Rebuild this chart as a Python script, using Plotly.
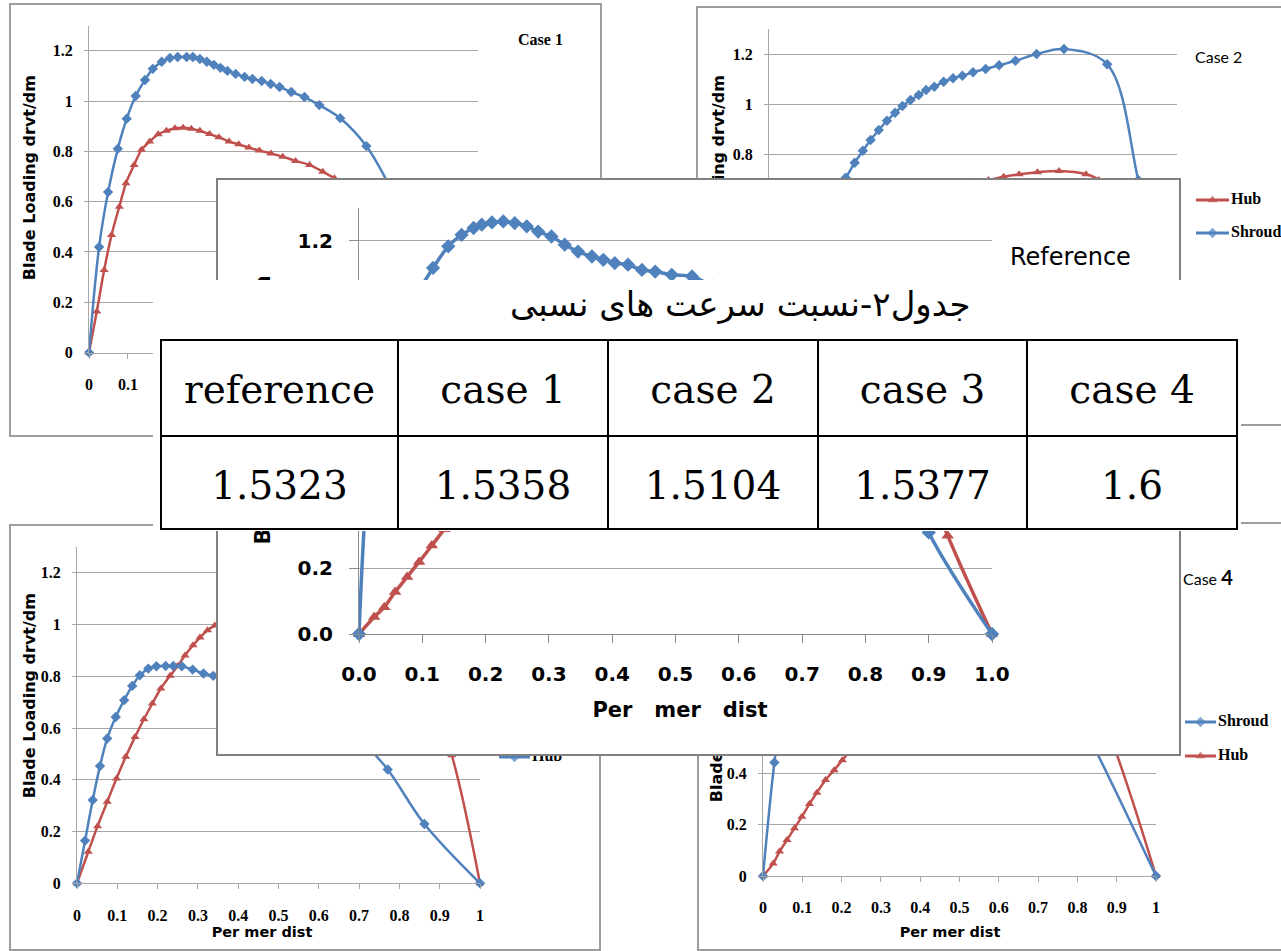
import plotly.graph_objects as go

W, H = 1281, 951
BLUE = "#4F81BD"
RED = "#C0504D"
GRID = "#A6A6A6"

# ---------------- data ----------------
x_tick_values = [0, 0.1, 0.2, 0.3, 0.4, 0.5, 0.6, 0.7, 0.8, 0.9, 1.0]
case_x_tick_labels = ["0", "0.1", "0.2", "0.3", "0.4", "0.5", "0.6", "0.7", "0.8", "0.9", "1"]
ref_x_tick_labels = ["0.0", "0.1", "0.2", "0.3", "0.4", "0.5", "0.6", "0.7", "0.8", "0.9", "1.0"]
y_tick_values = [0, 0.2, 0.4, 0.6, 0.8, 1.0, 1.2]
case_y_tick_labels = ["0", "0.2", "0.4", "0.6", "0.8", "1", "1.2"]
ref_y_tick_labels = ["0.0", "0.2", "0.4", "0.6", "0.8", "1.0", "1.2"]

# Case 1
case1_shroud_x = [0, 0.026, 0.049, 0.074, 0.097, 0.12, 0.144, 0.164, 0.187, 0.208, 0.228, 0.251, 0.267,
                  0.285, 0.303, 0.321, 0.338, 0.356, 0.377, 0.4, 0.42, 0.444, 0.467, 0.49, 0.52, 0.554,
                  0.592, 0.646, 0.713, 0.78, 0.85, 0.92, 1.0]
case1_shroud_y = [0, 0.42, 0.638, 0.81, 0.93, 1.02, 1.084, 1.128, 1.156, 1.171, 1.175, 1.175, 1.175,
                  1.167, 1.156, 1.144, 1.132, 1.12, 1.108, 1.096, 1.088, 1.08, 1.068, 1.056, 1.036, 1.016,
                  0.984, 0.932, 0.821, 0.64, 0.42, 0.2, 0]
case1_hub_x = [0, 0.02, 0.039, 0.058, 0.078, 0.095, 0.116, 0.135, 0.156, 0.178, 0.199, 0.221, 0.242,
               0.263, 0.285, 0.31, 0.334, 0.36, 0.385, 0.411, 0.438, 0.468, 0.498, 0.531, 0.567, 0.601,
               0.631, 0.7, 0.78, 0.86, 0.93, 1.0]
case1_hub_y = [0, 0.163, 0.328, 0.468, 0.58, 0.673, 0.746, 0.806, 0.839, 0.868, 0.882, 0.892, 0.894,
               0.89, 0.882, 0.869, 0.856, 0.839, 0.828, 0.815, 0.803, 0.792, 0.779, 0.762, 0.746, 0.719,
               0.693, 0.62, 0.5, 0.33, 0.17, 0]

# Case 2
case2_shroud_x = [0, 0.02, 0.05, 0.09, 0.13, 0.16, 0.188, 0.21, 0.23, 0.249, 0.269, 0.289, 0.309, 0.327,
                  0.347, 0.367, 0.385, 0.405, 0.428, 0.451, 0.474, 0.5, 0.531, 0.564, 0.604, 0.656, 0.723,
                  0.829, 0.905, 0.95, 1.0]
case2_shroud_y = [0, 0.25, 0.42, 0.52, 0.6, 0.65, 0.705, 0.765, 0.813, 0.856, 0.896, 0.933, 0.965, 0.992,
                  1.016, 1.036, 1.056, 1.069, 1.089, 1.103, 1.113, 1.127, 1.14, 1.155, 1.173, 1.2, 1.22,
                  1.159, 0.696, 0.35, 0]
case2_hub_x = [0, 0.03, 0.07, 0.12, 0.18, 0.25, 0.32, 0.39, 0.45, 0.5, 0.538, 0.575, 0.613, 0.658, 0.711,
               0.777, 0.808, 0.86, 0.93, 1.0]
case2_hub_y = [0, 0.12, 0.25, 0.37, 0.47, 0.55, 0.61, 0.65, 0.675, 0.69, 0.696, 0.709, 0.719, 0.727, 0.732,
               0.719, 0.696, 0.55, 0.28, 0]

# Case 3 (legend of this chart labels the blue curve "Hub")
case3_blue_x = [0, 0.02, 0.039, 0.057, 0.075, 0.096, 0.117, 0.137, 0.156, 0.177, 0.197, 0.22, 0.239, 0.26,
                0.287, 0.314, 0.338, 0.4, 0.48, 0.56, 0.64, 0.71, 0.771, 0.862, 1.0]
case3_blue_y = [0, 0.165, 0.322, 0.453, 0.56, 0.643, 0.708, 0.763, 0.804, 0.83, 0.839, 0.84, 0.84, 0.839,
                0.826, 0.811, 0.802, 0.79, 0.76, 0.71, 0.64, 0.545, 0.44, 0.229, 0]
case3_red_x = [0, 0.028, 0.051, 0.075, 0.098, 0.121, 0.144, 0.166, 0.187, 0.208, 0.231, 0.249, 0.268,
               0.288, 0.305, 0.324, 0.342, 0.4, 0.47, 0.55, 0.63, 0.71, 0.79, 0.86, 0.93, 1.0]
case3_red_y = [0, 0.122, 0.221, 0.315, 0.405, 0.489, 0.566, 0.634, 0.695, 0.753, 0.802, 0.839, 0.881,
               0.92, 0.95, 0.978, 0.997, 1.06, 1.11, 1.13, 1.12, 1.07, 0.97, 0.8, 0.495, 0]

# Case 4
case4_shroud_x = [0, 0.029, 0.06, 0.1, 0.15, 0.2, 0.3, 0.4, 0.5, 0.6, 0.7, 0.8, 1.0]
case4_shroud_y = [0, 0.442, 0.78, 0.98, 1.08, 1.12, 1.14, 1.13, 1.1, 1.03, 0.9, 0.63, 0]
case4_hub_x = [0, 0.026, 0.042, 0.061, 0.08, 0.099, 0.118, 0.137, 0.159, 0.181, 0.202, 0.23, 0.3, 0.4,
               0.5, 0.6, 0.7, 0.8, 0.86, 1.0]
case4_hub_y = [0, 0.049, 0.095, 0.14, 0.186, 0.231, 0.28, 0.324, 0.374, 0.412, 0.451, 0.5, 0.6, 0.72,
               0.81, 0.86, 0.86, 0.78, 0.63, 0]

# Reference
ref_shroud_x = [0, 0.025, 0.05, 0.075, 0.095, 0.117, 0.141, 0.162, 0.181, 0.194, 0.21, 0.228, 0.246, 0.265,
                0.283, 0.304, 0.325, 0.346, 0.368, 0.386, 0.404, 0.425, 0.447, 0.468, 0.494, 0.526, 0.56,
                0.6, 0.65, 0.7, 0.75, 0.8, 0.85, 0.9, 1.0]
ref_shroud_y = [0, 0.7, 0.88, 0.99, 1.05, 1.117, 1.183, 1.218, 1.239, 1.249, 1.256, 1.259, 1.254, 1.244,
                1.228, 1.213, 1.188, 1.167, 1.152, 1.142, 1.132, 1.127, 1.111, 1.106, 1.096, 1.091, 1.06,
                1.03, 0.99, 0.93, 0.85, 0.72, 0.55, 0.31, 0]
ref_hub_x = [0, 0.024, 0.04, 0.057, 0.076, 0.095, 0.115, 0.135, 0.16, 0.2, 0.25, 0.3, 0.4, 0.5, 0.6, 0.7,
             0.8, 0.87, 0.93, 1.0]
ref_hub_y = [0, 0.052, 0.082, 0.128, 0.174, 0.22, 0.27, 0.32, 0.38, 0.47, 0.57, 0.65, 0.77, 0.86, 0.92,
             0.93, 0.86, 0.6, 0.3, 0]

# Table
table_title = "جدول۲-نسبت سرعت های نسبی"
table_header = ["reference", "case 1", "case 2", "case 3", "case 4"]
table_values = ["1.5323", "1.5358", "1.5104", "1.5377", "1.6"]

y_title_text = "Blade Loading drvt/dm"
x_title_case = "Per\u00a0mer\u00a0dist"
x_title_ref = "Per\u00a0\u00a0\u00a0mer\u00a0\u00a0\u00a0dist"

# ---------------- figure construction ----------------
traces = []
layout = dict(template="none", width=W, height=H, autosize=False,
              margin=dict(l=0, r=0, t=0, b=0, pad=0), paper_bgcolor="white",
              plot_bgcolor="white", showlegend=False, annotations=[])
counter = {"n": 0}


def axis_names():
    counter["n"] += 1
    n = counter["n"]
    s = "" if n == 1 else str(n)
    return "xaxis" + s, "yaxis" + s, "x" + s, "y" + s


def dom_x(a, b):
    return [max(0.0, a / W), min(1.0, b / W)]


def dom_y(top, bottom):
    return [max(0.0, 1 - bottom / H), min(1.0, 1 - top / H)]


def add_cover(box, line_color, line_width, right_border=True, ytitle=None):
    """A white panel (card) that hides whatever lies beneath it."""
    x0, x1, y0, y1 = box
    xa, ya, xr, yr = axis_names()
    show = line_width > 0
    layout[xa] = dict(domain=dom_x(x0, x1), range=[x0, x1], anchor=yr, showgrid=False, zeroline=False,
                      showticklabels=False, ticks="", showline=show, mirror=True, linecolor=line_color,
                      linewidth=max(line_width, 1), fixedrange=True, automargin=False)
    yd = dict(domain=dom_y(y0, y1), range=[y1, y0], anchor=xr, showgrid=False, zeroline=False, ticks="",
              showline=show, mirror=right_border, linecolor=line_color, linewidth=max(line_width, 1),
              fixedrange=True, automargin=False)
    if ytitle is None:
        yd["showticklabels"] = False
    else:
        text, yc, font, standoff = ytitle
        yd.update(tickmode="array", tickvals=[yc], ticktext=[text], tickangle=-90,
                  ticklabelposition="inside", tickfont=font, ticklabelstandoff=standoff)
    layout[ya] = yd
    traces.append(go.Scatter(x=[x0], y=[y1], mode="markers", marker=dict(size=1, opacity=0),
                             hoverinfo="skip", xaxis=xr, yaxis=yr))
    return xr, yr


def add_text(xr, yr, x, y, text, font, position="middle right"):
    traces.append(go.Scatter(x=[x], y=[y], mode="text", text=[text], textposition=position, textfont=font,
                             hoverinfo="skip", cliponaxis=False, xaxis=xr, yaxis=yr))


def add_legend_item(xr, yr, x0, x1, y, color, symbol, msize, label, font, lw=3):
    traces.append(go.Scatter(x=[x0, (x0 + x1) / 2, x1], y=[y, y, y], mode="lines+markers",
                             line=dict(color=color, width=lw),
                             marker=dict(symbol=symbol, size=[0, msize, 0], color=color, line=dict(width=0)),
                             hoverinfo="skip", cliponaxis=False, xaxis=xr, yaxis=yr))
    add_text(xr, yr, x1 + 2, y, label, font)


def add_data(box, series, xlabels, ylabels, tickfont, xstand, ystand, xlen, ylen, axis_color, lw, msize):
    x0, x1, y0, y1 = box
    xa, ya, xr, yr = axis_names()
    layout[xa] = dict(domain=dom_x(x0, x1), range=[0, 1], anchor=yr, tickmode="array",
                      tickvals=x_tick_values, ticktext=xlabels, showgrid=False, zeroline=False,
                      showline=True, linecolor=axis_color, linewidth=1, ticks="outside", ticklen=xlen,
                      tickcolor=axis_color, tickwidth=1, tickfont=tickfont, ticklabelstandoff=xstand,
                      fixedrange=True, automargin=False)
    layout[ya] = dict(domain=dom_y(y0, y1), range=[0, 1.3], anchor=xr, tickmode="array",
                      tickvals=y_tick_values, ticktext=ylabels, showgrid=True, gridcolor=GRID, gridwidth=1,
                      zeroline=False, showline=True, linecolor=axis_color, linewidth=1, ticks="outside",
                      ticklen=ylen, tickcolor=axis_color, tickwidth=1, tickfont=tickfont,
                      ticklabelstandoff=ystand, fixedrange=True, automargin=False)
    for xs, ys, color, symbol in series:
        traces.append(go.Scatter(x=xs, y=ys, mode="lines+markers",
                                 line=dict(color=color, width=lw, shape="spline", smoothing=1.0),
                                 marker=dict(symbol=symbol, size=msize, color=color, line=dict(width=0)),
                                 cliponaxis=False, hoverinfo="skip", xaxis=xr, yaxis=yr))


serif_tick = dict(family="Liberation Serif", size=16, color="black", weight="bold")
case_ytitle_font = dict(family="DejaVu Sans", size=16, color="black", weight="bold")
case_xtitle_font = dict(family="DejaVu Sans", size=14.5, color="black", weight="bold")
legend_font = dict(family="Liberation Serif", size=16, color="black", weight="bold")
case_title_serif = dict(family="Liberation Serif", size=16, color="black", weight="bold")
case_title_sans = dict(family="Lato", size=16, color="black")
PANEL = "#9C9C9C"

# ---- Case 1 (top left) ----
xr, yr = add_cover((11, 600, 5, 435), PANEL, 1.5, True, (y_title_text, 180, case_ytitle_font, 5))
add_text(xr, yr, 518, 41, "Case 1", case_title_serif)
add_text(xr, yr, 284, 410, x_title_case, case_xtitle_font, "middle center")
add_legend_item(xr, yr, 490, 522, 200, RED, "triangle-up", 9, "Hub", legend_font)
add_legend_item(xr, yr, 490, 522, 233, BLUE, "diamond", 8, "Shroud", legend_font)
add_data((89, 478, 25.6, 352.6),
         [(case1_hub_x, case1_hub_y, RED, "triangle-up"), (case1_shroud_x, case1_shroud_y, BLUE, "diamond")],
         case_x_tick_labels, case_y_tick_labels, serif_tick, 12, 8, 5, 4, GRID, 2.5, 8)

# ---- Case 2 (top right) ----
xr, yr = add_cover((698, 1281, 8, 424), PANEL, 1.5, False, (y_title_text, 180, case_ytitle_font, 7))
add_text(xr, yr, 1195, 59, "Case 2", case_title_sans)
add_text(xr, yr, 973, 410, x_title_case, case_xtitle_font, "middle center")
add_legend_item(xr, yr, 1196, 1229, 200, RED, "triangle-up", 9, "Hub", legend_font)
add_legend_item(xr, yr, 1196, 1229, 233, BLUE, "diamond", 8, "Shroud", legend_font)
add_data((769, 1177, 29, 354),
         [(case2_hub_x, case2_hub_y, RED, "triangle-up"), (case2_shroud_x, case2_shroud_y, BLUE, "diamond")],
         case_x_tick_labels, case_y_tick_labels, serif_tick, 12, 8, 5, 4, GRID, 2.5, 8)

# ---- Case 3 (bottom left) ----
xr, yr = add_cover((11, 599, 526, 949), PANEL, 1.5, True, (y_title_text, 698, case_ytitle_font, 5))
add_text(xr, yr, 515, 575, "Case 3", case_title_serif)
add_text(xr, yr, 262, 933, x_title_case, case_xtitle_font, "middle center")
add_legend_item(xr, yr, 499, 530, 722, RED, "triangle-up", 9, "Shroud", legend_font)
add_legend_item(xr, yr, 499, 530, 757, BLUE, "diamond", 8, "Hub", legend_font)
add_data((77, 480, 547, 883.3),
         [(case3_red_x, case3_red_y, RED, "triangle-up"), (case3_blue_x, case3_blue_y, BLUE, "diamond")],
         case_x_tick_labels, case_y_tick_labels, serif_tick, 12, 8, 5, 4, GRID, 2.5, 8)

# ---- Case 4 (bottom right) ----
xr, yr = add_cover((699, 1281, 524, 949), PANEL, 1.5, False, (y_title_text, 702, case_ytitle_font, 4))
add_text(xr, yr, 1183, 581, "Case <b><span style='font-size:20px'>4</span></b>", case_title_sans)
add_text(xr, yr, 950, 933, x_title_case, case_xtitle_font, "middle center")
add_legend_item(xr, yr, 1185, 1216, 722, BLUE, "diamond", 8, "Shroud", legend_font)
add_legend_item(xr, yr, 1185, 1216, 756, RED, "triangle-up", 9, "Hub", legend_font)
add_data((763, 1156, 542, 876),
         [(case4_hub_x, case4_hub_y, RED, "triangle-up"), (case4_shroud_x, case4_shroud_y, BLUE, "diamond")],
         case_x_tick_labels, case_y_tick_labels, serif_tick, 12, 8, 5, 4, GRID, 2.5, 8)

# ---- Reference (centre) ----
ref_tick = dict(family="DejaVu Sans", size=20, color="black", weight="bold")
ref_bold = dict(family="DejaVu Sans", size=21, color="black", weight="bold")
xr, yr = add_cover((218, 1179, 180, 754), "#808080", 2, True, (y_title_text, 413, ref_bold, 28))
add_text(xr, yr, 1010, 259, "Reference", dict(family="DejaVu Sans", size=24, color="black"))
add_text(xr, yr, 680, 712, x_title_ref, ref_bold, "middle center")
add_legend_item(xr, yr, 1010, 1045, 400, RED, "triangle-up", 11, "Hub", ref_bold)
add_legend_item(xr, yr, 1010, 1045, 440, BLUE, "diamond", 10, "Shroud", ref_bold)
add_data((359, 992, 208, 634),
         [(ref_hub_x, ref_hub_y, RED, "triangle-up"), (ref_shroud_x, ref_shroud_y, BLUE, "diamond")],
         ref_x_tick_labels, ref_y_tick_labels, ref_tick, 14, 12, 8, 9, "#8C8C8C", 3.5, 11)

# ---- white area behind the table ----
add_cover((153, 1241, 280, 531), "white", 0, True, None)

# ---- table ----
# a tiny invisible first line pushes each entry down so it sits mid-cell
lead = "<span style='font-size:4px;color:white'>.</span><br>"
table_font = dict(family="DejaVu Serif", size=39, color="black")
traces.append(go.Table(
    domain=dict(x=[161 / W, 1237 / W], y=[1 - 560 / H, 1 - 340 / H]),
    columnwidth=[237, 210, 210, 209, 210],
    header=dict(values=[lead + h for h in table_header], height=96, align="center",
                fill=dict(color="white"), line=dict(color="black", width=2.5), font=table_font),
    cells=dict(values=[[lead + v] for v in table_values], height=93, align="center",
               fill=dict(color="white"), line=dict(color="black", width=2.5), font=table_font),
))
layout["annotations"].append(dict(text=table_title, x=740 / W, y=1 - 304 / H, xref="paper", yref="paper",
                                  xanchor="center", yanchor="middle", showarrow=False,
                                  font=dict(family="DejaVu Sans", size=34, color="black")))

fig = go.Figure(data=traces, layout=layout)
fig.write_html("out.html", config={"displayModeBar": False},
               post_script="document.body.style.margin='0px';")
